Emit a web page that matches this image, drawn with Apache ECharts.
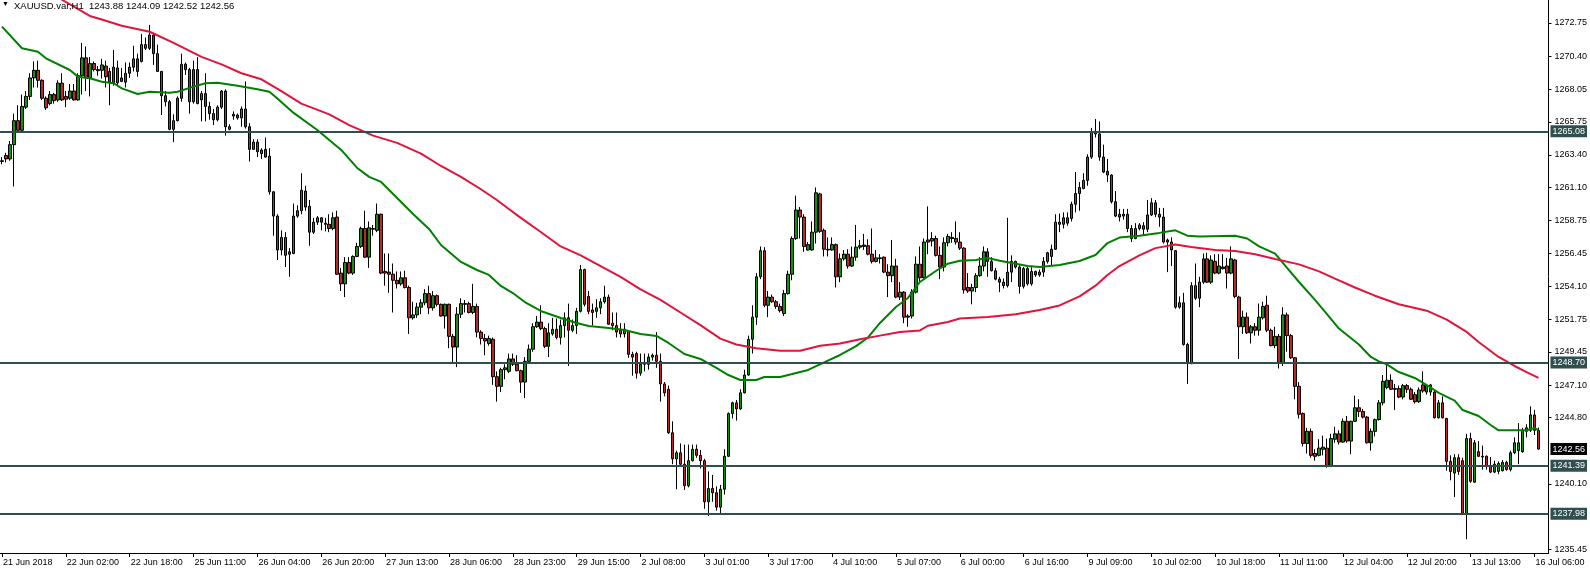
<!DOCTYPE html>
<html>
<head>
<meta charset="utf-8">
<script src="https://cdn.jsdelivr.net/npm/echarts@6/dist/echarts.min.js"></script>
<style>
html,body{margin:0;padding:0;background:#fff;}
#chart{width:1590px;height:570px;}
</style>
</head>
<body>
<div id="chart"></div>
<script>
// ---- Data ----
const tickLabels = ['21 Jun 2018','22 Jun 02:00','22 Jun 18:00','25 Jun 11:00','26 Jun 04:00','26 Jun 20:00','27 Jun 13:00','28 Jun 06:00','28 Jun 23:00','29 Jun 15:00','2 Jul 08:00','3 Jul 01:00','3 Jul 17:00','4 Jul 10:00','5 Jul 07:00','6 Jul 00:00','6 Jul 16:00','9 Jul 09:00','10 Jul 02:00','10 Jul 18:00','11 Jul 11:00','12 Jul 04:00','12 Jul 20:00','13 Jul 13:00','16 Jul 06:00'];
const barsPerLabel = 16;
const slotCount = 388;

const yTickValues = [1272.75,1270.40,1268.05,1265.75,1263.40,1261.10,1258.75,1256.45,1254.10,1251.75,1249.45,1247.10,1244.80,1240.10,1235.45];

const opens = [1262.99,1263.37,1263.12,1264.13,1265.83,1265.15,1266.79,1267.55,1268.86,1269.40,1268.69,1267.42,1267.04,1267.68,1267.30,1268.49,1267.55,1267.42,1267.93,1267.30,1269.02,1270.28,1268.86,1269.88,1269.45,1269.40,1269.70,1269.32,1268.51,1269.57,1268.86,1268.56,1269.19,1269.62,1270.21,1270.03,1271.22,1270.96,1271.90,1270.58,1269.32,1267.60,1267.17,1265.22,1265.83,1267.42,1269.83,1269.45,1267.17,1269.45,1267.30,1267.75,1266.84,1266.33,1265.90,1266.79,1267.93,1265.40,1266.16,1266.23,1266.03,1266.66,1265.40,1263.80,1264.31,1263.75,1263.80,1263.32,1260.79,1259.07,1256.67,1257.56,1256.54,1256.42,1259.07,1259.45,1260.84,1259.76,1257.93,1258.64,1258.95,1258.57,1258.49,1258.19,1259.00,1255.03,1254.27,1255.78,1255.03,1256.21,1256.92,1258.19,1256.16,1258.19,1258.06,1259.20,1255.15,1255.10,1254.95,1254.52,1254.27,1254.70,1254.01,1251.86,1252.07,1252.62,1252.93,1253.58,1252.57,1253.43,1252.82,1251.99,1252.82,1250.55,1249.79,1252.12,1252.87,1252.87,1252.24,1252.67,1250.85,1250.40,1250.04,1250.34,1247.69,1247.01,1248.19,1248.07,1248.95,1248.57,1248.12,1247.31,1248.78,1249.64,1251.23,1251.56,1251.10,1249.84,1250.72,1251.05,1250.47,1251.31,1251.86,1250.98,1251.31,1252.32,1255.28,1253.38,1252.42,1252.32,1252.57,1253.00,1253.33,1251.48,1251.31,1250.98,1250.72,1250.90,1249.28,1249.33,1247.94,1248.57,1248.57,1249.08,1249.21,1248.78,1247.18,1246.80,1243.72,1241.87,1242.30,1241.49,1239.97,1241.74,1242.55,1242.12,1241.74,1238.83,1239.77,1239.47,1238.45,1239.72,1242.05,1245.08,1245.84,1245.41,1246.55,1247.81,1250.34,1251.91,1254.77,1256.62,1252.75,1253.33,1253.00,1252.67,1252.17,1253.58,1254.95,1257.48,1259.50,1259.00,1256.67,1256.67,1257.93,1260.64,1258.06,1256.72,1256.67,1257.05,1254.77,1256.04,1256.37,1255.53,1256.16,1256.87,1256.92,1256.97,1256.37,1255.86,1256.11,1256.16,1255.10,1254.85,1255.53,1253.33,1253.68,1251.91,1251.99,1253.68,1255.66,1254.70,1257.38,1257.30,1257.48,1256.29,1255.46,1257.18,1257.56,1257.48,1257.23,1256.80,1254.01,1253.76,1254.01,1254.85,1255.53,1256.54,1255.86,1255.20,1254.60,1254.39,1254.14,1255.10,1255.86,1255.46,1254.09,1255.35,1254.27,1255.15,1254.90,1255.10,1255.86,1256.21,1256.72,1258.49,1258.49,1258.95,1258.90,1259.91,1260.67,1261.02,1261.60,1263.25,1264.89,1264.89,1263.25,1262.24,1261.98,1260.09,1259.20,1259.07,1259.20,1258.19,1257.48,1258.19,1258.39,1258.14,1259.15,1260.01,1259.20,1259.00,1257.38,1257.23,1256.62,1252.62,1252.93,1249.97,1248.62,1254.14,1253.25,1254.39,1256.04,1254.39,1255.86,1255.03,1255.46,1255.53,1255.03,1255.96,1253.33,1251.23,1251.91,1250.80,1251.23,1250.98,1251.86,1252.75,1250.98,1249.89,1250.55,1248.70,1252.07,1250.60,1249.03,1247.01,1245.08,1242.96,1243.82,1242.25,1242.12,1242.55,1242.63,1241.36,1243.26,1243.64,1243.06,1244.53,1243.13,1244.53,1245.49,1245.23,1244.83,1243.01,1243.82,1244.65,1245.84,1246.93,1247.44,1246.85,1246.85,1246.25,1247.06,1246.80,1246.42,1245.92,1247.11,1246.60,1246.60,1246.60,1244.78,1245.84,1244.73,1241.69,1240.86,1241.95,1241.74,1237.95,1243.31,1240.22,1242.38,1242.05,1242.05,1241.36,1240.93,1240.98,1241.03,1241.62,1241.11,1242.30,1242.45,1242.38,1243.82,1243.89,1244.98,1243.88];

const closes = [1262.94,1263.12,1264.13,1265.83,1265.15,1266.84,1267.55,1268.86,1269.40,1268.69,1267.42,1266.74,1267.68,1267.25,1268.49,1267.30,1267.35,1267.93,1267.30,1269.02,1270.28,1268.86,1269.88,1269.45,1269.37,1269.78,1268.94,1268.56,1269.62,1268.51,1268.61,1269.19,1269.62,1270.21,1269.32,1271.22,1270.96,1271.90,1270.58,1269.32,1267.60,1267.17,1265.22,1265.83,1267.42,1269.83,1269.45,1267.17,1269.45,1267.04,1267.75,1266.84,1266.33,1265.90,1266.79,1267.93,1265.40,1265.22,1266.28,1266.03,1266.66,1265.40,1263.80,1264.31,1263.63,1263.50,1263.25,1260.79,1259.07,1256.67,1257.56,1256.29,1256.37,1259.07,1259.45,1260.90,1259.71,1257.93,1258.64,1258.95,1258.64,1258.49,1258.19,1258.95,1254.95,1254.27,1255.78,1255.03,1256.21,1256.92,1258.19,1256.16,1258.24,1258.14,1259.20,1255.03,1255.03,1254.95,1254.52,1254.27,1254.70,1254.01,1251.86,1252.07,1252.62,1252.93,1253.58,1252.57,1253.43,1252.82,1251.99,1252.82,1250.55,1249.79,1252.12,1252.87,1252.82,1252.24,1252.67,1250.85,1250.40,1250.22,1250.40,1247.69,1247.01,1248.19,1248.32,1248.95,1248.57,1248.12,1247.31,1248.78,1249.64,1251.23,1251.56,1251.10,1249.84,1250.80,1251.05,1250.47,1251.31,1251.86,1250.98,1251.31,1252.32,1255.28,1252.82,1252.32,1252.24,1252.57,1253.00,1253.33,1251.41,1251.31,1250.85,1250.72,1251.05,1249.28,1249.08,1247.94,1248.57,1248.70,1249.08,1249.21,1248.78,1247.18,1246.55,1243.72,1241.87,1242.30,1241.49,1239.97,1241.74,1242.55,1242.12,1241.74,1238.83,1239.77,1239.47,1238.45,1239.72,1242.05,1245.08,1245.84,1245.41,1246.55,1247.81,1250.34,1251.91,1254.77,1256.62,1252.75,1253.33,1253.00,1252.67,1252.37,1253.58,1254.95,1257.48,1259.50,1259.00,1256.92,1257.05,1257.93,1260.72,1257.99,1256.72,1256.67,1257.05,1254.77,1256.04,1256.37,1255.53,1256.16,1256.87,1256.97,1257.02,1256.37,1255.86,1256.11,1256.06,1255.10,1254.85,1255.53,1253.33,1253.68,1251.91,1251.99,1253.68,1255.66,1254.70,1257.23,1257.23,1257.48,1256.29,1255.46,1257.18,1257.63,1257.48,1257.23,1256.80,1253.84,1253.76,1254.01,1254.85,1255.53,1256.54,1255.86,1255.20,1254.60,1254.39,1254.14,1255.10,1255.86,1255.46,1254.09,1255.35,1254.27,1255.15,1254.90,1255.10,1255.86,1256.47,1256.72,1258.64,1258.64,1258.95,1258.57,1259.91,1260.67,1261.10,1261.60,1263.25,1265.02,1265.07,1263.25,1262.19,1261.98,1260.09,1259.07,1259.00,1259.20,1258.19,1257.48,1258.19,1258.44,1258.14,1259.15,1260.01,1259.20,1259.00,1257.23,1257.23,1256.67,1252.62,1252.93,1249.97,1248.62,1254.14,1253.25,1254.39,1256.04,1254.39,1255.96,1255.03,1255.53,1255.35,1255.03,1256.04,1253.38,1251.23,1251.91,1250.80,1251.23,1250.98,1251.91,1252.67,1250.98,1249.89,1250.55,1248.70,1252.07,1250.60,1249.03,1247.01,1245.03,1242.96,1243.82,1242.12,1242.05,1242.63,1242.70,1241.36,1243.31,1243.64,1243.06,1244.53,1243.13,1244.53,1245.49,1245.23,1244.83,1243.01,1243.82,1244.65,1245.84,1247.36,1247.44,1246.80,1246.80,1246.25,1247.06,1246.80,1246.09,1245.92,1246.75,1246.68,1247.06,1247.11,1244.78,1245.84,1244.78,1241.69,1240.98,1241.95,1240.98,1237.95,1243.31,1240.28,1243.01,1242.05,1242.00,1241.36,1240.93,1241.49,1241.54,1241.62,1241.11,1242.30,1243.01,1243.01,1243.89,1244.07,1244.98,1243.89,1242.56];

const lows = [1262.74,1262.87,1262.99,1261.17,1265.02,1265.07,1266.66,1267.30,1268.18,1268.18,1267.30,1266.59,1266.92,1267.04,1267.17,1267.22,1266.79,1267.30,1267.25,1267.25,1267.68,1267.93,1267.55,1269.32,1269.02,1268.81,1268.18,1266.92,1268.31,1268.31,1268.56,1268.18,1268.86,1269.32,1268.94,1269.95,1270.84,1270.84,1269.78,1269.30,1266.23,1266.84,1265.15,1264.31,1265.78,1267.17,1269.07,1266.33,1267.04,1266.99,1265.78,1265.78,1265.90,1265.52,1265.78,1266.66,1264.77,1265.15,1265.90,1265.90,1265.40,1265.27,1262.94,1263.75,1263.25,1263.12,1263.20,1260.59,1257.68,1255.96,1256.29,1255.46,1254.77,1256.37,1258.95,1259.20,1259.45,1256.97,1257.81,1258.44,1258.06,1257.99,1257.93,1258.06,1254.90,1253.76,1253.33,1254.95,1254.90,1256.16,1256.80,1256.11,1255.40,1257.68,1257.93,1254.95,1254.14,1253.63,1252.24,1253.94,1254.14,1253.94,1250.72,1251.74,1251.86,1252.12,1252.75,1252.12,1252.37,1252.67,1251.95,1251.10,1249.71,1248.70,1248.37,1251.86,1252.24,1252.17,1252.12,1250.47,1249.97,1249.21,1249.89,1247.11,1245.92,1246.60,1247.51,1247.94,1248.45,1248.07,1246.55,1246.17,1248.70,1249.46,1251.15,1250.98,1249.71,1249.08,1250.60,1250.34,1249.97,1250.47,1248.45,1250.85,1250.72,1252.24,1252.67,1252.12,1251.31,1251.86,1252.12,1252.87,1251.36,1250.98,1250.47,1250.47,1250.47,1249.03,1247.76,1247.56,1247.76,1248.07,1248.19,1248.83,1248.32,1245.92,1246.30,1243.64,1241.49,1239.72,1241.36,1239.67,1239.85,1241.69,1241.95,1241.19,1238.33,1237.82,1238.83,1238.20,1237.95,1239.34,1242.00,1244.73,1244.58,1245.34,1246.50,1247.76,1249.33,1251.36,1254.60,1252.62,1251.91,1252.93,1252.50,1252.24,1251.99,1253.51,1254.52,1257.38,1257.48,1256.54,1256.62,1256.62,1257.13,1257.88,1256.21,1256.21,1256.62,1254.01,1254.39,1255.91,1255.35,1255.46,1255.91,1256.72,1256.67,1256.29,1255.71,1255.78,1255.71,1255.03,1253.33,1254.39,1253.25,1253.13,1251.48,1251.23,1251.81,1253.58,1254.39,1254.65,1256.37,1256.92,1256.21,1254.60,1255.15,1256.92,1257.18,1257.05,1256.67,1253.58,1253.63,1252.82,1253.68,1254.77,1255.15,1254.77,1255.15,1254.52,1253.68,1253.94,1254.01,1254.39,1255.35,1253.58,1253.94,1254.14,1254.14,1254.77,1254.77,1254.77,1255.71,1255.53,1256.67,1257.93,1258.19,1258.39,1258.69,1259.33,1259.45,1260.97,1261.22,1263.12,1264.64,1262.99,1262.11,1261.48,1259.96,1259.00,1258.69,1258.82,1257.93,1257.23,1257.43,1258.06,1257.68,1257.93,1259.07,1259.00,1258.31,1257.13,1255.10,1255.53,1252.50,1252.50,1249.89,1247.18,1248.57,1253.13,1252.62,1254.27,1254.34,1254.27,1254.95,1254.95,1255.28,1253.94,1254.95,1253.25,1248.95,1250.72,1250.72,1250.04,1250.60,1250.60,1251.74,1250.85,1249.84,1249.71,1248.27,1248.45,1249.46,1248.95,1246.09,1244.73,1242.75,1242.25,1241.95,1241.74,1242.05,1242.12,1241.24,1241.29,1243.01,1242.88,1243.01,1243.01,1242.20,1244.48,1244.83,1244.73,1242.96,1242.45,1243.46,1244.58,1245.66,1246.80,1246.75,1245.34,1246.17,1246.09,1246.55,1246.04,1245.79,1245.84,1246.55,1246.42,1246.35,1244.73,1244.73,1244.73,1241.03,1240.35,1239.16,1240.73,1237.90,1236.18,1240.17,1240.17,1242.00,1241.11,1241.11,1240.86,1240.86,1240.78,1240.98,1241.03,1240.98,1242.20,1241.49,1242.30,1243.39,1243.77,1243.56,1242.52];

const highs = [1263.25,1263.55,1264.39,1266.33,1266.92,1267.68,1267.93,1269.19,1270.03,1270.08,1268.76,1267.55,1267.93,1267.80,1268.69,1269.19,1267.93,1268.43,1268.43,1269.19,1271.34,1271.09,1270.33,1270.03,1269.70,1270.21,1270.08,1269.57,1270.84,1270.08,1269.57,1269.95,1269.95,1271.14,1270.58,1271.98,1271.72,1272.61,1271.98,1271.22,1269.35,1267.93,1267.30,1266.28,1267.55,1270.58,1269.95,1269.57,1270.08,1270.33,1267.93,1269.19,1267.17,1266.66,1266.92,1268.00,1268.05,1265.58,1266.49,1266.33,1266.84,1268.61,1265.65,1264.51,1264.51,1263.88,1264.64,1263.88,1260.85,1259.20,1258.06,1257.93,1256.80,1259.96,1259.83,1262.11,1261.22,1260.21,1258.95,1259.07,1259.00,1258.95,1259.20,1259.33,1259.45,1255.40,1256.16,1256.16,1256.29,1257.18,1258.32,1259.45,1258.69,1258.44,1259.96,1259.25,1256.42,1256.42,1255.71,1255.15,1255.15,1255.20,1254.14,1253.00,1252.93,1253.18,1253.89,1254.14,1253.76,1253.51,1252.87,1252.87,1252.87,1250.72,1252.62,1253.25,1253.13,1253.00,1254.27,1252.87,1250.98,1250.72,1250.60,1250.47,1248.07,1248.32,1248.57,1249.33,1249.33,1249.21,1248.19,1249.08,1249.97,1251.48,1251.99,1252.75,1251.23,1251.48,1251.86,1251.81,1251.74,1252.24,1252.87,1251.74,1252.57,1255.61,1255.35,1253.76,1252.87,1253.18,1253.25,1254.14,1253.51,1252.24,1252.24,1251.48,1251.48,1250.98,1249.46,1249.46,1249.33,1249.33,1249.33,1249.33,1250.85,1249.33,1247.31,1247.06,1244.53,1242.45,1242.96,1242.88,1242.88,1242.88,1242.88,1242.50,1241.87,1240.98,1240.73,1239.92,1240.02,1242.55,1245.16,1245.92,1246.04,1246.80,1248.19,1250.60,1252.75,1255.03,1256.92,1256.87,1253.76,1253.51,1253.13,1252.87,1253.84,1255.20,1257.63,1260.52,1259.71,1259.20,1257.23,1258.69,1261.10,1260.72,1258.19,1257.56,1257.56,1257.13,1256.42,1256.67,1256.72,1256.92,1258.44,1257.38,1257.81,1257.43,1258.19,1256.67,1256.37,1256.21,1255.66,1257.38,1256.04,1254.39,1253.76,1252.12,1253.89,1256.21,1256.92,1257.48,1259.76,1257.93,1257.68,1256.92,1257.56,1257.81,1257.93,1258.69,1257.93,1256.87,1255.03,1254.27,1255.03,1256.16,1256.92,1256.80,1256.16,1255.40,1254.77,1254.65,1258.95,1256.29,1255.91,1255.66,1255.46,1255.53,1255.46,1255.20,1255.28,1256.16,1256.54,1257.05,1259.20,1259.25,1259.33,1259.33,1260.09,1262.19,1261.48,1262.11,1263.45,1265.32,1265.95,1265.78,1264.13,1263.12,1262.03,1260.84,1259.58,1259.58,1259.58,1258.44,1258.57,1258.57,1258.64,1260.21,1260.34,1260.21,1259.65,1259.65,1257.48,1257.56,1256.67,1253.38,1253.63,1250.09,1254.39,1255.71,1254.77,1256.42,1256.47,1256.29,1256.37,1256.37,1256.37,1256.11,1256.92,1256.04,1253.43,1252.37,1252.24,1251.36,1251.48,1252.87,1253.00,1253.43,1251.10,1251.23,1250.72,1252.62,1252.24,1250.72,1249.08,1247.31,1245.16,1244.07,1244.02,1242.55,1243.26,1243.51,1243.31,1243.64,1244.15,1243.89,1244.73,1244.91,1244.58,1246.35,1246.09,1245.41,1244.91,1244.02,1244.73,1246.04,1247.81,1248.62,1247.86,1247.18,1247.06,1247.18,1247.18,1246.93,1246.60,1246.93,1248.07,1247.18,1247.18,1246.68,1246.04,1246.30,1244.78,1242.12,1242.20,1242.20,1241.95,1243.64,1243.72,1243.21,1243.13,1242.81,1242.12,1242.00,1241.74,1241.69,1241.79,1241.74,1242.45,1243.39,1244.40,1244.07,1244.32,1245.59,1245.34,1244.09];

const maFastBars = [0,5,9,11,17,19,22,25,28,30,34,37,42,44,48,51,54,59,64,67,69,73,79,85,89,92,95,99,103,107,110,115,119,122,125,128,131,135,140,144,147,152,156,160,164,167,171,175,179,182,185,189,191,195,198,202,206,210,214,217,220,224,227,230,234,237,240,244,247,250,254,257,260,265,270,274,277,280,285,290,294,297,300,309,312,315,319,322,325,329,332,335,340,343,345,347,350,354,357,360,364,366,370,373,375,382,384,385];
const maFastValues = [1272.49,1270.96,1270.72,1270.25,1269.42,1268.95,1268.83,1268.59,1268.48,1268.12,1267.72,1267.88,1267.81,1267.88,1268.24,1268.48,1268.52,1268.31,1268.05,1267.88,1267.40,1266.40,1265.17,1263.76,1262.48,1261.85,1261.49,1260.35,1259.22,1258.16,1257.02,1255.82,1255.25,1254.90,1254.12,1253.62,1252.98,1252.35,1251.85,1251.50,1251.28,1251.14,1251.00,1250.72,1250.58,1250.08,1249.30,1248.95,1248.31,1247.81,1247.46,1247.46,1247.67,1247.67,1247.88,1248.17,1248.70,1249.23,1249.86,1250.47,1251.50,1252.63,1253.27,1254.40,1255.18,1255.70,1255.91,1255.96,1256.10,1255.91,1255.70,1255.53,1255.46,1255.60,1255.89,1256.31,1257.16,1257.55,1257.68,1257.88,1258.06,1257.68,1257.63,1257.68,1257.48,1256.92,1256.41,1255.40,1254.40,1253.13,1252.13,1251.10,1249.97,1249.09,1248.78,1248.57,1248.02,1247.60,1247.10,1246.54,1246.00,1245.33,1244.91,1244.27,1243.89,1243.89,1244.06,1243.89];

const maSlowBars = [13,15,22,25,30,37,43,50,55,60,65,70,75,82,87,93,99,105,110,115,120,124,127,130,135,140,145,150,155,160,165,170,175,180,184,189,195,200,205,210,215,220,225,230,232,237,240,247,254,260,265,270,274,277,280,285,289,294,298,304,309,314,319,325,330,334,339,344,350,357,362,367,370,375,379,382,385];
const maSlowValues = [1274.70,1274.40,1273.25,1273.00,1272.56,1272.13,1271.34,1270.35,1269.82,1269.19,1268.76,1267.93,1267.04,1266.28,1265.52,1264.77,1264.26,1263.50,1262.62,1261.85,1260.97,1260.21,1259.57,1258.94,1257.94,1256.92,1256.29,1255.53,1254.77,1253.88,1253.13,1252.24,1251.35,1250.39,1249.97,1249.71,1249.53,1249.53,1249.89,1250.04,1250.34,1250.60,1250.86,1250.97,1251.30,1251.57,1251.81,1251.92,1252.11,1252.42,1252.74,1253.38,1254.14,1254.90,1255.53,1256.29,1256.80,1257.05,1256.88,1256.67,1256.60,1256.36,1256.03,1255.65,1255.15,1254.64,1254.01,1253.43,1252.82,1252.37,1251.74,1250.86,1250.15,1249.09,1248.45,1248.02,1247.61];

const levelPrices = [1265.08,1248.70,1241.39,1237.98];
const lastPrice = 1242.56;
const headerText = 'XAUUSD.var,H1  1243.88 1244.09 1242.52 1242.56';

// ---- Build options ----
const FONT = 'Liberation Sans, Arial, sans-serif';
const categories = [];
for (let i = 0; i < slotCount; i++) {
  categories.push(i % barsPerLabel === 0 && tickLabels[i / barsPerLabel] ? tickLabels[i / barsPerLabel] : '');
}
const candles = opens.map((o, i) => [o, closes[i], lows[i], highs[i]]);
const fastLine = maFastBars.map((b, i) => [b, maFastValues[i]]);
const slowLine = maSlowBars.map((b, i) => [b, maSlowValues[i]]);

const labelBase = {
  show: true, position: 'end', distance: 2,
  color: '#fff', fontSize: 9, fontFamily: FONT,
  padding: [2, 2, 1, 2],
  formatter: p => p.value.toFixed(2)
};

const levelMarks = levelPrices.map(p => ({
  yAxis: p,
  lineStyle: {color: '#2F4F4F', width: 2, type: 'solid'},
  label: Object.assign({}, labelBase, {backgroundColor: '#2F4F4F'})
}));

const chart = echarts.init(document.getElementById('chart'), null, {renderer: 'canvas'});
chart.setOption({
  animation: false,
  backgroundColor: '#ffffff',
  title: [
    {text: '\u25BC', left: 2, top: 1, padding: 0,
     textStyle: {fontSize: 7, color: '#000', fontWeight: 'normal', fontFamily: FONT}},
    {text: headerText, left: 14, top: 1, padding: 0,
     textStyle: {fontSize: 9.5, color: '#000', fontWeight: 'normal', fontFamily: FONT}}
  ],
  grid: {left: -3, right: 41, top: 0, bottom: 17, containLabel: false},
  xAxis: {
    type: 'category',
    data: categories,
    boundaryGap: true,
    axisLine: {show: true, lineStyle: {color: '#000', width: 1}},
    axisTick: {show: true, interval: barsPerLabel - 1, alignWithLabel: true, length: 4, lineStyle: {color: '#000'}},
    axisLabel: {interval: barsPerLabel - 1, align: 'left', margin: 5, padding: [0, 0, 0, 1],
      fontSize: 9, color: '#000', fontFamily: FONT},
    splitLine: {show: false}
  },
  yAxis: {
    type: 'value',
    position: 'right',
    min: 1235.20,
    max: 1274.38,
    scale: true,
    axisLine: {show: true, lineStyle: {color: '#000', width: 1}},
    axisTick: {show: true, inside: false, length: 3, customValues: yTickValues, lineStyle: {color: '#000'}},
    axisLabel: {customValues: yTickValues, margin: 6, fontSize: 9, color: '#000', fontFamily: FONT,
      formatter: v => v.toFixed(2)},
    splitLine: {show: false}
  },
  series: [
    {
      type: 'candlestick',
      data: candles,
      barWidth: 3,
      z: 2,
      itemStyle: {
        color: '#1b8a1b', color0: '#b82828',
        borderColor: '#000', borderColor0: '#000', borderColorDoji: '#000',
        borderWidth: 1
      }
    },
    {
      type: 'line',
      data: fastLine,
      showSymbol: false,
      smooth: false,
      z: 3,
      lineStyle: {color: '#008000', width: 2},
      silent: true,
      markLine: {
        silent: true,
        symbol: ['none', 'none'],
        z: 4,
        lineStyle: {color: 'rgba(255,255,255,0)', width: 1, type: 'solid'},
        label: Object.assign({}, labelBase, {backgroundColor: '#000000'}),
        data: [{yAxis: lastPrice}]
      }
    },
    {
      type: 'line',
      data: slowLine,
      showSymbol: false,
      smooth: false,
      z: 3,
      lineStyle: {color: '#e0143c', width: 2},
      silent: true,
      markLine: {
        silent: true,
        symbol: ['none', 'none'],
        z: 4,
        label: labelBase,
        data: levelMarks
      }
    }
  ]
});
</script>
</body>
</html>
